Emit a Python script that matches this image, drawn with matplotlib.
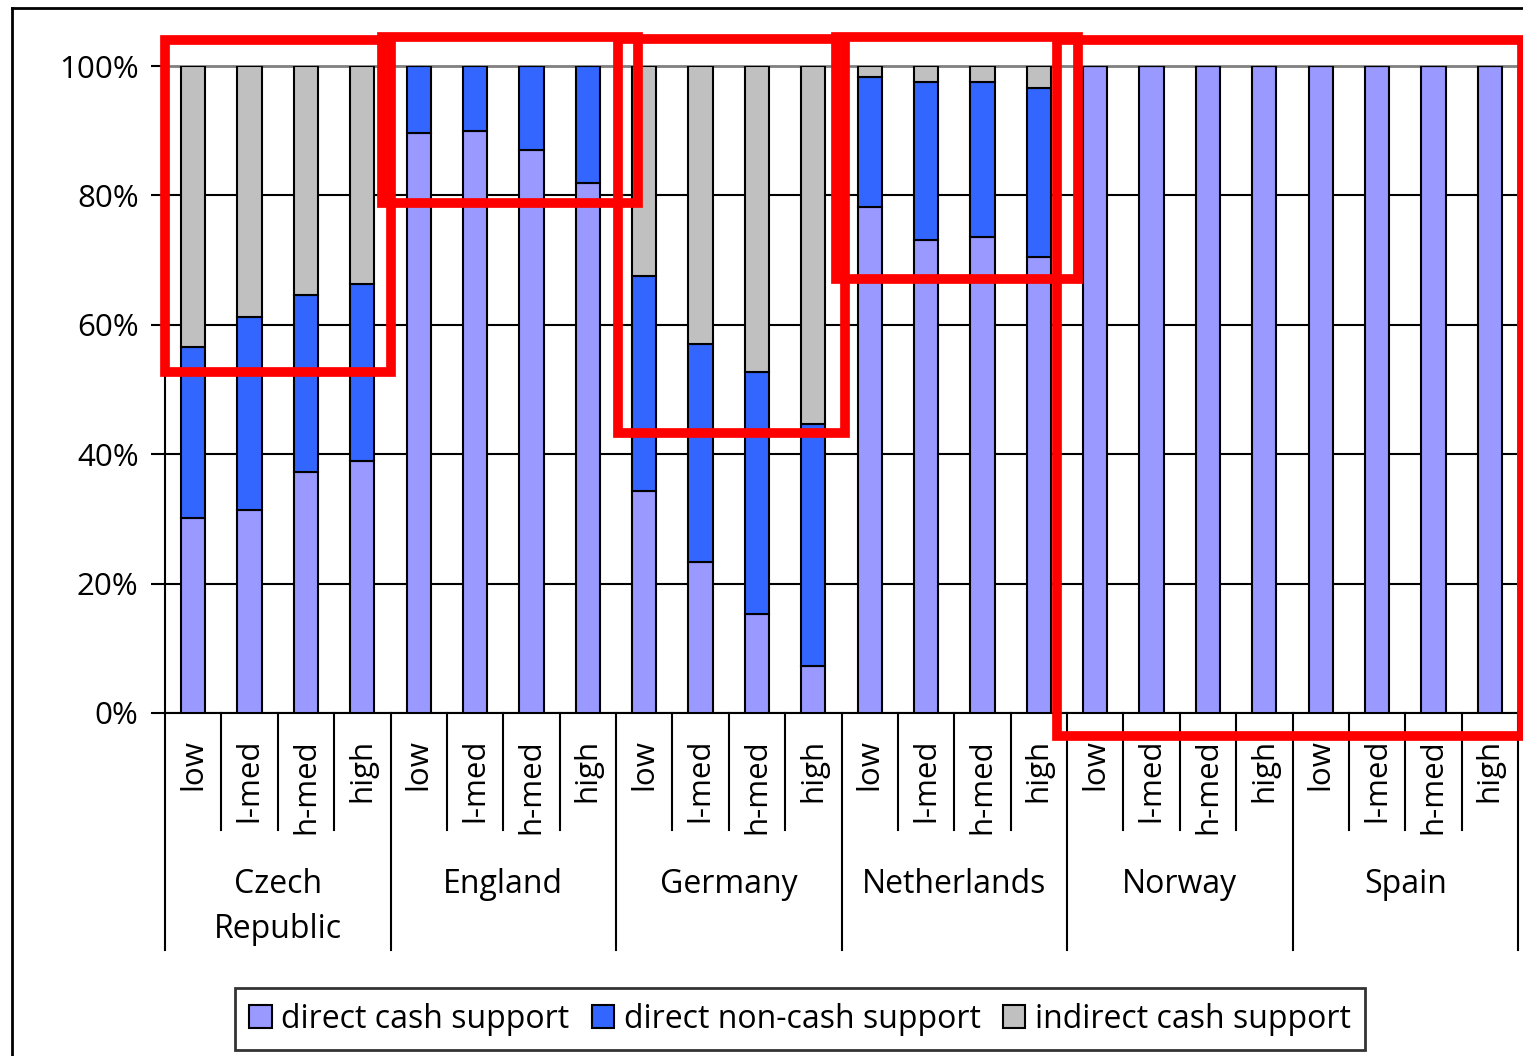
import numpy as np
import matplotlib
matplotlib.use("Agg")
import matplotlib.pyplot as plt
from matplotlib.patches import Rectangle
from matplotlib.lines import Line2D
import matplotlib.transforms as mtransforms

plt.rcParams['font.family'] = ['Open Sans', 'DejaVu Sans']

countries = ['Czech\nRepublic', 'England', 'Germany', 'Netherlands', 'Norway', 'Spain']
groups = ['low', 'l-med', 'h-med', 'high']

# shares in percent, 4 income groups per country
direct_cash = [30.1, 31.4, 37.2, 38.9,
               89.6, 90.0, 87.0, 81.9,
               34.3, 23.3, 15.3, 7.3,
               78.2, 73.1, 73.6, 70.5,
               100, 100, 100, 100,
               100, 100, 100, 100]
direct_noncash = [26.5, 29.8, 27.4, 27.4,
                  10.4, 10.0, 13.0, 18.1,
                  33.2, 33.7, 37.4, 37.4,
                  20.1, 24.4, 23.9, 26.1,
                  0, 0, 0, 0,
                  0, 0, 0, 0]
indirect_cash = [43.4, 38.8, 35.4, 33.7,
                 0, 0, 0, 0,
                 32.5, 43.0, 47.3, 55.3,
                 1.7, 2.5, 2.5, 3.4,
                 0, 0, 0, 0,
                 0, 0, 0, 0]

# highlight boxes (x0, x1, y0, y1) in bar / percent units
boxes = [(-0.5, 3.51, 52.7, 104.0),
         (3.35, 7.89, 78.8, 104.5),
         (7.54, 11.56, 43.3, 104.2),
         (11.40, 15.69, 67.1, 104.5),
         (15.32, 23.57, -3.55, 104.0)]

W, H = 1523, 1056
fig = plt.figure(figsize=(W / 100, H / 100), dpi=100)
ax = fig.add_axes([165 / W, 1 - 713 / H, (1518 - 165) / W, (713 - 66) / H])

x = np.arange(len(direct_cash))
dc = np.array(direct_cash)
dn = np.array(direct_noncash)
ic = np.array(indirect_cash)
bw = 0.43
ax.bar(x, dc, bw, color='#9999FF', edgecolor='black', linewidth=1.5, label='direct cash support', zorder=3)
ax.bar(x, dn, bw, bottom=dc, color='#3366FF', edgecolor='black', linewidth=1.5, label='direct non-cash support', zorder=3)
ax.bar(x, ic, bw, bottom=dc + dn, color='#C0C0C0', edgecolor='black', linewidth=1.5, label='indirect cash support', zorder=3)

ax.set_xlim(-0.5, len(x) - 0.5)
ax.set_ylim(0, 100)
ax.set_yticks(np.arange(0, 101, 20))
ax.set_yticklabels([f'{v}%' for v in range(0, 101, 20)], fontsize=22.5)
ax.tick_params(axis='y', length=10, width=1.5, pad=9)
ax.set_xticks([])
ax.yaxis.grid(True, color='black', linewidth=1.5, zorder=0)
ax.set_axisbelow(True)
for s in ['top', 'right']:
    ax.spines[s].set_color('#808080')
    ax.spines[s].set_linewidth(2)
for s in ['left', 'bottom']:
    ax.spines[s].set_color('black')
    ax.spines[s].set_linewidth(1.5)

# two-level category axis
trans = mtransforms.blended_transform_factory(ax.transData, ax.transAxes)
for k in range(len(x) + 1):
    yb = -0.366 if k % 4 == 0 else -0.181
    ax.plot([k - 0.5, k - 0.5], [0, yb], color='black', lw=1.5, transform=trans, clip_on=False)
for i in x:
    ax.text(i, -0.04, groups[i % 4], rotation=90, ha='center', va='top',
            fontsize=22.5, transform=trans)
for j, c in enumerate(countries):
    ax.text(4 * j + 1.5, -0.24, c, ha='center', va='top', fontsize=23,
            linespacing=1.45, transform=trans)

# red highlight boxes
for (x0, x1, y0, y1) in boxes:
    ax.add_patch(Rectangle((x0, y0), x1 - x0, y1 - y0, fill=False, edgecolor='#FF0000',
                           linewidth=7, clip_on=False, zorder=10))

# outer chart border (left and top visible)
fig.add_artist(Line2D([12 / W, 12 / W], [0, 1 - 8 / H], color='black', lw=2))
fig.add_artist(Line2D([12 / W, 1], [1 - 8 / H, 1 - 8 / H], color='black', lw=2))

leg = fig.legend(loc='center', bbox_to_anchor=(800 / W, 1 - 1019 / H), ncol=3,
                 fontsize=23, frameon=True, fancybox=False, edgecolor='black',
                 handlelength=0.7, handleheight=0.7, handletextpad=0.3,
                 columnspacing=0.7, borderpad=0.45, borderaxespad=0)
leg.get_frame().set_linewidth(2)

fig.savefig('out.png', dpi=100)
